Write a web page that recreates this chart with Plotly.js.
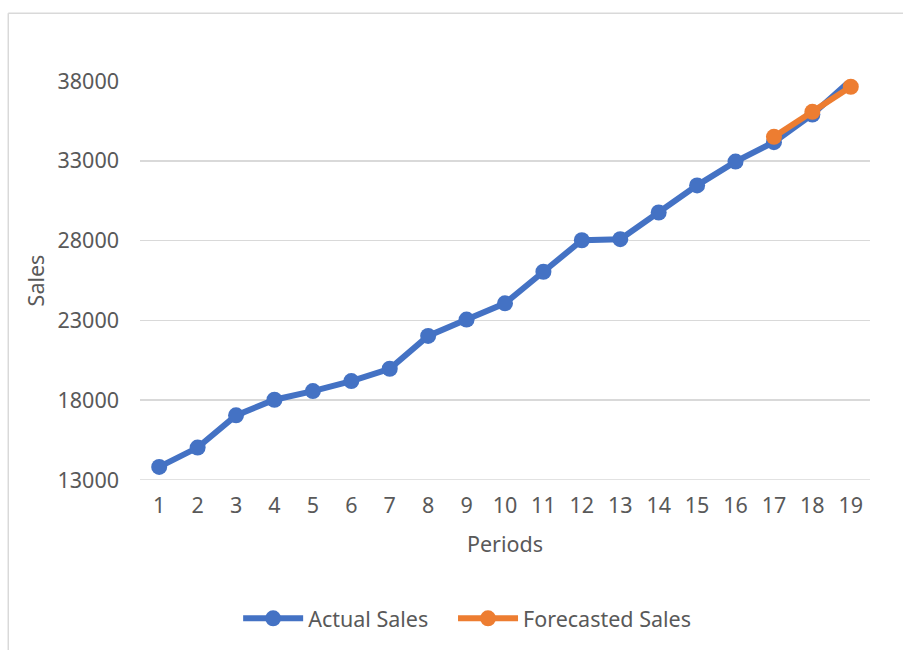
<!DOCTYPE html>
<html>
<head>
<meta charset="utf-8">
<script src="https://cdn.plot.ly/plotly-3.0.1.min.js"></script>
<style>
html,body{margin:0;padding:0;background:#fff;}
#chart{width:903px;height:650px;}
</style>
</head>
<body>
<div id="chart"></div>
<script>
const periods = ["1","2","3","4","5","6","7","8","9","10","11","12","13","14","15","16","17","18","19"];
const actualSales = [13820, 15030, 17050, 18030, 18570, 19200, 19970, 22030, 23050, 24070, 26050, 28020, 28090, 29760, 31460, 32950, 34170, 35900, 38050];
const forecastPeriods = ["17","18","19"];
const forecastSales = [34500, 36070, 37640];
const yTicks = [13000, 18000, 23000, 28000, 33000, 38000];

const fontFam = "'Noto Sans', 'Liberation Sans', sans-serif";
const textColor = "#595959";
const fs = 21.5;

const traces = [
  {
    x: periods, y: actualSales, name: "Actual Sales", type: "scatter", mode: "lines+markers",
    line: {color: "#4472C4", width: 6}, marker: {color: "#4472C4", size: 16},
    cliponaxis: false, legend: "legend"
  },
  {
    x: forecastPeriods, y: forecastSales, name: "Forecasted Sales", type: "scatter", mode: "lines+markers",
    line: {color: "#ED7D31", width: 6}, marker: {color: "#ED7D31", size: 16},
    cliponaxis: false, legend: "legend2"
  }
];

const L = 139.8, R = 870.2, T = 81, B = 481.5;
const W = R - L, H = B - T;
const px = v => (v - L) / W;
const py = v => (B - v) / H;

const legendBase = {orientation: "h", yanchor: "middle", xanchor: "left", y: py(619),
  font: {size: fs, color: textColor, family: fontFam}, itemwidth: 60, bgcolor: "rgba(0,0,0,0)"};

const layout = {
  width: 903, height: 650,
  margin: {l: L, r: 903 - R, t: T, b: 650 - B, pad: 0},
  paper_bgcolor: "#ffffff", plot_bgcolor: "#ffffff",
  font: {family: fontFam, color: textColor, size: fs},
  showlegend: true,
  legend: Object.assign({}, legendBase, {x: px(238)}),
  legend2: Object.assign({}, legendBase, {x: px(453)}),
  xaxis: {
    type: "category", categoryorder: "array", categoryarray: periods,
    range: [-0.5, 18.5], showgrid: false, zeroline: false,
    showline: false, ticks: "", tickfont: {size: fs, color: textColor}, ticklabelstandoff: 10,
    title: {text: "Periods", font: {size: fs, color: textColor}, standoff: 19}
  },
  yaxis: {
    range: [13000, 38000], tickvals: yTicks, ticktext: yTicks.map(String),
    showgrid: true, gridcolor: "#d9d9d9", gridwidth: 1.5, zeroline: false, showline: false,
    ticks: "", tickfont: {size: fs, color: textColor}, ticklabelstandoff: 20,
    title: {text: "Sales", font: {size: fs, color: textColor}, standoff: 6}
  },
  shapes: [
    {type: "line", xref: "paper", yref: "paper", x0: px(8), x1: px(8), y0: py(13), y1: py(660),
     line: {color: "#d9d9d9", width: 1.5}},
    {type: "line", xref: "paper", yref: "paper", x0: px(8), x1: px(910), y0: py(13), y1: py(13),
     line: {color: "#d9d9d9", width: 1.5}},
    {type: "line", xref: "paper", yref: "y", x0: 0, x1: 1, y0: 13000, y1: 13000,
     line: {color: "#d9d9d9", width: 1.5}, layer: "below"}
  ]
};

Plotly.newPlot("chart", traces, layout, {displayModeBar: false, staticPlot: true});
</script>
</body>
</html>
